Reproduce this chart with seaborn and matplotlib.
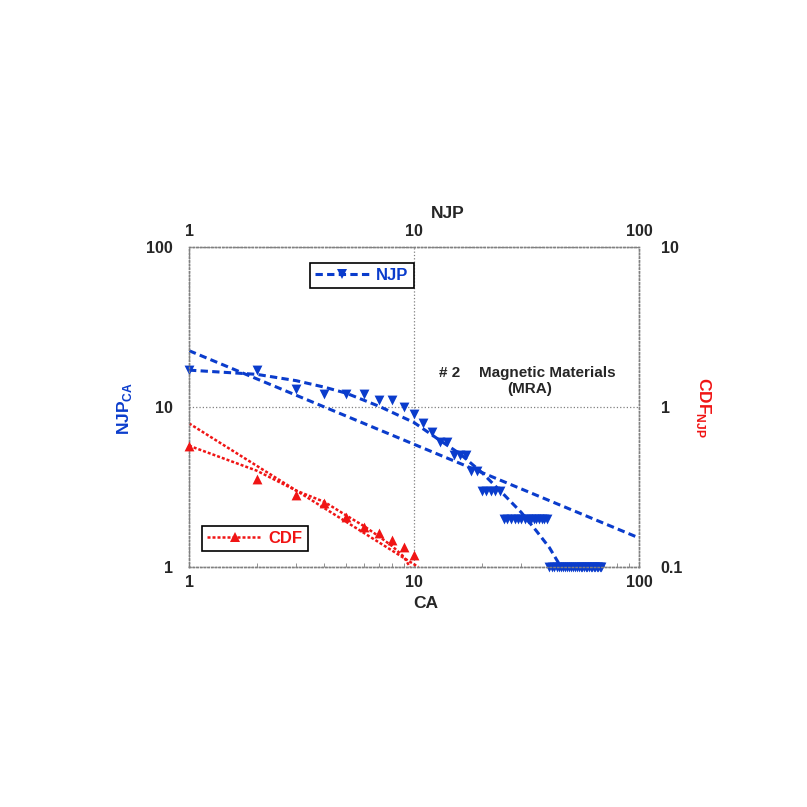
import matplotlib
matplotlib.use('Agg')
import matplotlib.pyplot as plt
import seaborn as sns
from matplotlib.lines import Line2D
from matplotlib.ticker import NullLocator, NullFormatter, FixedLocator, FixedFormatter

# NJP per CA (left axis)
ca = [1, 2, 3, 4, 5, 6, 7, 8, 9, 10, 11, 12, 13, 14, 15, 16, 17, 18, 19,
      20, 21, 22, 23, 24,
      25, 26, 27, 28, 29, 30, 31, 32, 33, 34, 35, 36, 37, 38, 39,
      40, 41, 42, 43, 44, 45, 46, 47, 48, 49, 50, 51, 52, 53, 54, 55, 56, 57,
      58, 59, 60, 61, 62, 63, 64, 65, 66, 67, 68]
njp = [17, 17, 13, 12, 12, 12, 11, 11, 10, 9, 8, 7, 6, 6, 5, 5, 5, 4, 4,
       3, 3, 3, 3, 3,
       2, 2, 2, 2, 2, 2, 2, 2, 2, 2, 2, 2, 2, 2, 2,
       1, 1, 1, 1, 1, 1, 1, 1, 1, 1, 1, 1, 1, 1, 1, 1, 1, 1,
       1, 1, 1, 1, 1, 1, 1, 1, 1, 1, 1]

# NJP trend lines
njp_pow_x = [1, 100]
njp_pow_y = [22.5, 1.52]
njp_curve_x = [1, 2, 3, 4, 5, 7, 10, 13, 16, 20, 25, 30, 35, 40, 45]
njp_curve_y = [17.0, 16.0, 14.6, 13.3, 12.2, 10.1, 8.0, 6.2, 5.1, 3.9, 2.85, 2.19, 1.68, 1.32, 1.0]

# CDF (right axis)
cdf_x = [1, 2, 3, 4, 5, 6, 7, 8, 9, 10]
cdf_y = [0.573, 0.355, 0.282, 0.25, 0.206, 0.177, 0.162, 0.1475, 0.134, 0.119]
cdf_pow_x = [1, 10.45]
cdf_pow_y = [0.79, 0.1]
cdf_curve_x = [1, 2, 3, 4, 5, 6, 7, 8, 9, 9.6]
cdf_curve_y = [0.573, 0.40, 0.30, 0.255, 0.21, 0.18, 0.155, 0.135, 0.116, 0.1]

BLUE = '#0a3ccc'
RED = '#f01414'
GRID = '#808080'

sns.set_style('white')
plt.rcParams['font.family'] = ['Liberation Sans', 'DejaVu Sans']
plt.rcParams['font.weight'] = 'bold'
plt.rcParams['mathtext.fontset'] = 'custom'
plt.rcParams['mathtext.bf'] = 'Liberation Sans:bold'
plt.rcParams['mathtext.rm'] = 'Liberation Sans:bold'

W = 807
fig = plt.figure(figsize=(8.07, 8.07), dpi=100)
ax = fig.add_axes([189 / W, 240 / W, 450 / W, 320 / W])
ax.set_xscale('log')
ax.set_yscale('log')

blue_dash = (0, (2.4, 1.4))
red_dot = (0, (1.2, 0.8))

sns.lineplot(x=njp_pow_x, y=njp_pow_y, ax=ax, color=BLUE, lw=2.2, linestyle=blue_dash)
sns.lineplot(x=njp_curve_x, y=njp_curve_y, ax=ax, color=BLUE, lw=2.2, linestyle=blue_dash)
sns.scatterplot(x=ca, y=njp, ax=ax, marker='v', color=BLUE, s=50, linewidth=0, zorder=3)

ax.set_xlim(1, 100)
ax.set_ylim(1, 100)

ax2 = ax.twinx()
ax2.set_yscale('log')
sns.lineplot(x=cdf_pow_x, y=cdf_pow_y, ax=ax2, color=RED, lw=1.8, linestyle=red_dot)
sns.lineplot(x=cdf_curve_x, y=cdf_curve_y, ax=ax2, color=RED, lw=1.8, linestyle=red_dot)
sns.scatterplot(x=cdf_x, y=cdf_y, ax=ax2, marker='^', color=RED, s=50, linewidth=0, zorder=3)
ax2.set_ylim(0.1, 10)
ax2.set_xlim(1, 100)

for a in (ax, ax2):
    for c in a.collections:
        c.set_clip_on(False)
    a.set_xlabel('')
    a.set_ylabel('')
    for sp in a.spines.values():
        sp.set_linestyle(':')
        sp.set_color(GRID)
        sp.set_linewidth(1)

ax.grid(True, which='major', ls=':', color=GRID, lw=0.9)
ax2.grid(False)

# ticks
ax.xaxis.set_major_locator(FixedLocator([1, 10, 100]))
ax.xaxis.set_major_formatter(FixedFormatter(['1', '10', '100']))
ax.xaxis.set_minor_formatter(NullFormatter())
ax.yaxis.set_major_locator(FixedLocator([1, 10, 100]))
ax.yaxis.set_major_formatter(FixedFormatter(['1', '10', '100']))
ax.yaxis.set_minor_locator(NullLocator())
ax2.yaxis.set_major_locator(FixedLocator([0.1, 1, 10]))
ax2.yaxis.set_major_formatter(FixedFormatter(['0.1', '1', '10']))
ax2.yaxis.set_minor_locator(NullLocator())
ax.tick_params(axis='x', which='both', bottom=True, direction='in', color=GRID, labelsize=11.5, pad=6)
ax.tick_params(axis='x', which='minor', length=3)
ax.tick_params(axis='x', which='major', length=3)
ax.tick_params(axis='y', which='both', left=False, labelsize=11.5, pad=8)
ax2.tick_params(axis='y', which='both', right=False, labelsize=11.5, pad=12)
ax2.tick_params(axis='x', which='both', bottom=False, top=False)

top = ax.secondary_xaxis('top')
top.xaxis.set_major_locator(FixedLocator([1, 10, 100]))
top.xaxis.set_major_formatter(FixedFormatter(['1', '10', '100']))
top.xaxis.set_minor_locator(NullLocator())
top.tick_params(axis='x', length=0, labelsize=11.5, pad=6)
top.spines['top'].set_visible(False)

# axis titles
fig.text(448 / W, 1 - 214 / W, 'NJP', ha='center', va='center', fontsize=12.5, fontweight='bold')
fig.text(426 / W, 1 - 603 / W, 'CA', ha='center', va='center', fontsize=12.5, fontweight='bold')
fig.text(125 / W, 1 - 408 / W, r'$\mathbf{NJP}_{\mathbf{CA}}$', rotation=90, ha='center', va='center',
         fontsize=12.5, color=BLUE)
fig.text(703 / W, 1 - 408 / W, r'$\mathbf{CDF}_{\mathbf{NJP}}$', rotation=-90, ha='center', va='center',
         fontsize=12.5, color=RED)

# annotation
fig.text(439 / W, 1 - 373 / W, '# 2', ha='left', va='center', fontsize=11, fontweight='bold')
fig.text(479 / W, 1 - 373 / W, 'Magnetic Materials', ha='left', va='center', fontsize=11, fontweight='bold')
fig.text(530 / W, 1 - 389 / W, '(MRA)', ha='center', va='center', fontsize=11, fontweight='bold')

# legends
h_njp = Line2D([], [], color=BLUE, lw=2.2, ls=blue_dash, marker='v', markersize=6.5, markeredgewidth=0)
h_cdf = Line2D([], [], color=RED, lw=1.8, ls=red_dot, marker='^', markersize=6.5, markeredgewidth=0)
leg1 = ax.legend([h_njp], ['NJP'], loc='center', bbox_to_anchor=(0.3835, 0.9105), numpoints=1,
                 handlelength=3.3, fontsize=12, labelcolor=BLUE, fancybox=False, framealpha=1,
                 edgecolor='black', borderpad=0.3, handletextpad=0.4)
leg1.get_frame().set_linewidth(1.2)
leg2 = ax2.legend([h_cdf], ['CDF'], loc='center', bbox_to_anchor=(0.1465, 0.0885), numpoints=1,
                  handlelength=3.3, fontsize=12, labelcolor=RED, fancybox=False, framealpha=1,
                  edgecolor='black', borderpad=0.3, handletextpad=0.4)
leg2.get_frame().set_linewidth(1.2)

fig.savefig('out.png', dpi=100)
